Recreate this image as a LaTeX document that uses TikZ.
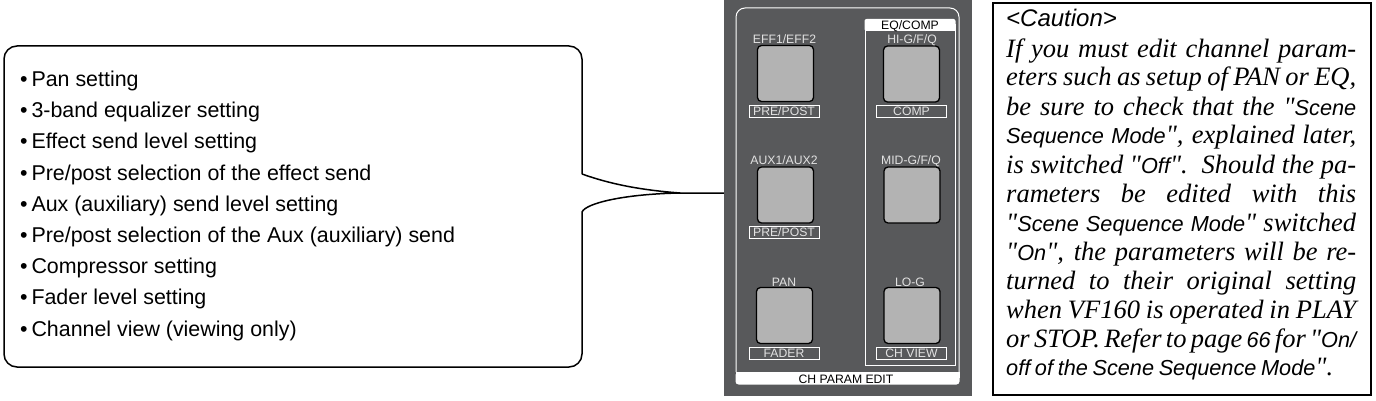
\documentclass[tikz,border=0pt]{standalone}
\usepackage{fontspec}
\setmainfont{Liberation Sans}
\newfontfamily\serfont{Liberation Serif}
\definecolor{panelgray}{HTML}{58595B}
\definecolor{btngray}{HTML}{B3B3B3}
\definecolor{lblgray}{HTML}{E2E2E2}
\newcommand{\sersz}{\fontsize{26.5}{29}\selectfont\serfont\itshape}
\newcommand{\sanz}[1]{{\fontsize{21.7}{29}\selectfont\rmfamily\itshape #1}}
\newcommand{\fitline}[3][350pt]{\node[anchor=base west,inner sep=0pt] (#2) at (1006,#2) {\hbox to #1{\sersz\spaceskip=.16em plus 1fil minus .1em\relax #3}};}
\newcommand{\itm}{\textbullet\kern.18em}
\tikzset{
  btn/.style={draw=black,line width=1.3pt,fill=btngray,rounded corners=4pt,minimum width=56pt,minimum height=56pt,inner sep=0pt},
  lbl/.style={text=lblgray,font=\fontsize{12.2}{14}\selectfont,inner sep=0pt,anchor=base},
  tagbox/.style={draw=white,line width=1pt,text=lblgray,font=\fontsize{12.2}{14}\selectfont,minimum width=70pt,minimum height=12.5pt,inner sep=0pt},
  band/.style={text=black,font=\fontsize{12.2}{14}\selectfont,inner sep=0pt,anchor=base},
  item/.style={anchor=base west,inner sep=0pt,font=\fontsize{21.4}{24}\selectfont}
}
\begin{document}
\begin{tikzpicture}[x=1pt,y=-1pt]
\useasboundingbox (0,0) rectangle (1376,401);
% callout
\coordinate (tip) at (724,193);
\coordinate (ntop) at (582,174);
\coordinate (nbot) at (582,212);
\draw[line width=1.5pt,line join=round,fill=white]
  (ntop) [rounded corners=13pt] -- (582,46) -- (4,46) -- (4,367) -- (582,367) [sharp corners] -- (nbot)
  .. controls (586,203) and (625,194) .. (680,193) -- (tip) -- (680,193)
  .. controls (640,190) and (610,184) .. (ntop);
\node[item] (i1) at (20,87) {\itm Pan setting};
\node[item] (i2) at (20,118) {\itm 3-band equalizer setting};
\node[item] (i3) at (20,149) {\itm Effect send level setting};
\node[item] (i4) at (20,180) {\itm Pre/post selection of the effect send};
\node[item] (i5) at (20,211) {\itm Aux (auxiliary) send level setting};
\node[item] (i6) at (20,242.5) {\itm Pre/post selection of the Aux (auxiliary) send};
\node[item] (i7) at (20,273.5) {\itm Compressor setting};
\node[item] (i8) at (20,304.5) {\itm Fader level setting};
\node[item] (i9) at (20,336) {\itm Channel view (viewing only)};
% panel
\fill[panelgray] (724,0) rectangle (972,396);
\draw[white,line width=1pt,rounded corners=9pt] (736,372) -- (736,8) -- (959,8) -- (959,372);
\fill[white,rounded corners=3pt] (735.5,372) rectangle (959.5,384.5);
\fill[white] (735.5,372) rectangle (959.5,378);
\draw[white,line width=1pt] (865,24) -- (865,365) -- (955,365) -- (955,24);
\fill[white,rounded corners=2pt] (864.5,19) rectangle (955.5,31);
\fill[white] (864.5,25) rectangle (955.5,31);
\node[band] (eqc) at (910,30) {EQ/COMP};
\node[band] (chp) at (846,383) {CH PARAM EDIT};
\node[btn] (b1) at (785.5,73.5) {};
\node[btn] (b2) at (911.5,74) {};
\node[btn] (b3) at (785.5,195) {};
\node[btn] (b4) at (912,195) {};
\node[btn] (b5) at (784.5,315.5) {};
\node[btn] (b6) at (912,315.5) {};
\node[lbl] at (784.5,43.5) (l1) {EFF1/EFF2};
\node[lbl] at (912,43.5) (l2) {HI-G/F/Q};
\node[lbl] at (784,164.5) (l3) {AUX1/AUX2};
\node[lbl] at (911,164.5) (l4) {MID-G/F/Q};
\node[lbl] at (784,286) (l5) {PAN};
\node[lbl] at (910,286) (l6) {LO-G};
\node[tagbox] (t1) at (784,111.5) {PRE/POST};
\node[tagbox] (t2) at (911.5,111.5) {COMP};
\node[tagbox] (t3) at (784,232.5) {PRE/POST};
\node[tagbox] (t4) at (784,353.5) {FADER};
\node[tagbox] (t5) at (911.5,353.5) {CH VIEW};
% caution
\node[draw=black,line width=2.2pt,fill=white,minimum width=378pt,minimum height=392pt,inner sep=0pt,anchor=north west] (box) at (992,2) {};
\node[anchor=base west,inner sep=0pt] (cap) at (1006,27) {\fontsize{24}{29}\selectfont\itshape <Caution>};
\fitline{58}{If you must edit channel param-}
\fitline{86}{eters such as setup of PAN or EQ,}
\fitline{116}{be sure to check that the "\sanz{Scene}}
\fitline{144}{\sanz{Sequence Mode}", explained later,}
\fitline{173}{is switched "\sanz{Off}". Should the pa-}
\fitline{202}{rameters be edited with this}
\fitline{231}{"\sanz{Scene Sequence Mode}" switched}
\fitline{260}{"\sanz{On}", the parameters will be re-}
\fitline{289}{turned to their original setting}
\fitline{318}{when VF160 is operated in PLAY}
\fitline{347}{or STOP. Refer to page \sanz{66} for "\sanz{On/}}
\fitline[327pt]{375}{\sanz{off of the Scene Sequence Mode}".}
\end{tikzpicture}
\end{document}
